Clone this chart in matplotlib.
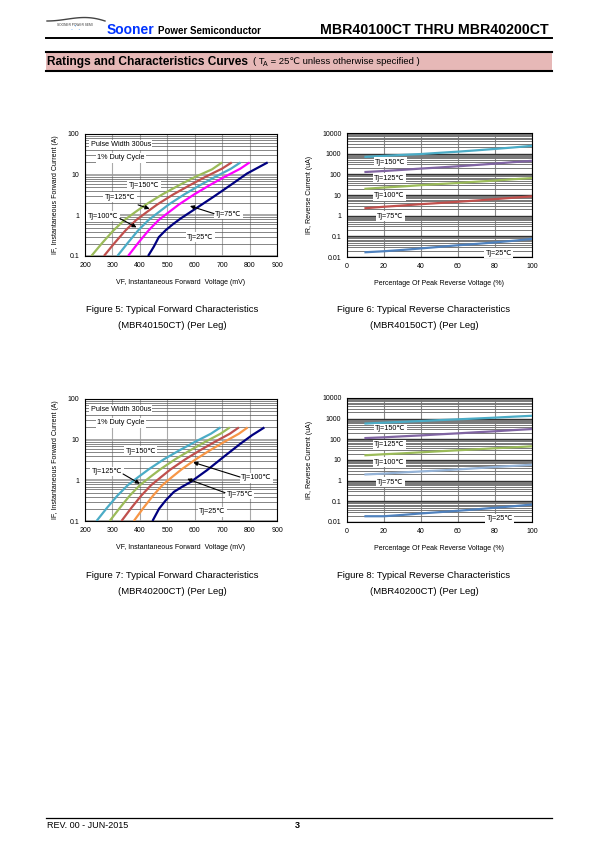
import matplotlib
matplotlib.use("Agg")
import matplotlib.pyplot as plt
from matplotlib.ticker import LogLocator, NullFormatter
import numpy as np

plt.rcParams['font.family'] = ['Liberation Sans', 'DejaVu Sans']

# ---- data: forward characteristics (VF mV, IF A) ----
temps_fwd = ["150", "125", "100", "75", "25"]

# Figure 5 (MBR40150CT)
f5_vf = [
    [223, 263, 303, 343, 383, 423, 483, 543, 603, 663, 700],
    [269, 308, 347, 386, 425, 464, 523, 582, 640, 699, 735],
    [318, 356, 393, 431, 469, 506, 563, 619, 676, 732, 767],
    [357, 394, 431, 468, 506, 543, 599, 654, 710, 766, 800],
    [430, 451, 469, 494, 520, 548, 609, 670, 730, 791, 866],
]
f5_if = [
    [0.1, 0.21, 0.42, 0.76, 1.2, 1.86, 3.3, 5.5, 8.9, 13.5, 20],
    [0.1, 0.21, 0.42, 0.76, 1.2, 1.86, 3.3, 5.5, 8.9, 14, 20],
    [0.1, 0.21, 0.42, 0.76, 1.2, 1.86, 3.3, 5.5, 8.9, 14, 20],
    [0.1, 0.21, 0.42, 0.76, 1.2, 1.86, 3.3, 5.5, 8.9, 14, 20],
    [0.1, 0.17, 0.29, 0.43, 0.6, 0.83, 1.55, 2.9, 5.5, 10.7, 20],
]
f5_colors = ["#9BBB59", "#C0504D", "#4BACC6", "#FF00FF", "#000080"]

# Figure 7 (MBR40200CT)
f7_vf = [
    [242, 280, 318, 356, 394, 432, 488, 545, 602, 659, 694],
    [290, 327, 363, 400, 437, 474, 529, 584, 639, 694, 728],
    [333, 369, 405, 441, 477, 512, 566, 620, 674, 728, 761],
    [378, 413, 448, 482, 517, 552, 604, 656, 709, 761, 793],
    [446, 470, 494, 524, 555, 585, 645, 706, 767, 810, 854],
]
f7_if = [
    [0.1, 0.21, 0.42, 0.76, 1.2, 1.86, 3.3, 5.5, 8.9, 14, 20],
    [0.1, 0.21, 0.42, 0.76, 1.2, 1.86, 3.3, 5.5, 8.9, 14, 20],
    [0.1, 0.21, 0.42, 0.76, 1.2, 1.86, 3.3, 5.5, 8.9, 14, 20],
    [0.1, 0.21, 0.42, 0.76, 1.2, 1.86, 3.3, 5.5, 8.9, 14, 20],
    [0.1, 0.2, 0.32, 0.52, 0.7, 0.91, 1.78, 3.8, 8.0, 13, 20],
]
f7_colors = ["#4BACC6", "#9BBB59", "#C0504D", "#F79646", "#000080"]

# ---- data: reverse characteristics (% of VRRM, IR uA) ----
rev_x = [10, 20, 30, 40, 50, 60, 70, 80, 90, 100]
temps_rev = ["150", "125", "100", "75", "25"]

f6_ir = [
    [700, 780, 870, 960, 1100, 1250, 1450, 1700, 2000, 2400],
    [130, 145, 165, 190, 215, 245, 285, 330, 390, 450],
    [20, 23, 26, 30, 34, 38, 44, 50, 58, 66],
    [2.3, 2.7, 3.1, 3.6, 4.1, 4.7, 5.4, 6.3, 7.4, 8.6],
    [0.017, 0.019, 0.022, 0.026, 0.031, 0.037, 0.043, 0.051, 0.061, 0.075],
]
f6_colors = ["#4BACC6", "#8064A2", "#9BBB59", "#C0504D", "#4F81BD"]

f8_ir = [
    [580, 640, 700, 770, 850, 930, 1020, 1120, 1250, 1380],
    [115, 125, 140, 155, 175, 195, 220, 245, 280, 315],
    [17, 19, 21, 23.5, 26.5, 29.5, 33, 37, 41, 46],
    [2.0, 2.2, 2.5, 2.8, 3.1, 3.5, 4.0, 4.6, 5.2, 5.9],
    [0.019, 0.019, 0.022, 0.026, 0.030, 0.035, 0.041, 0.049, 0.058, 0.070],
]
f8_colors = ["#4BACC6", "#8064A2", "#9BBB59", "#95B3D7", "#4F81BD"]

fwd_xticks = [200, 300, 400, 500, 600, 700, 800, 900]
fwd_yticks = [0.1, 1, 10, 100]
fwd_yticklabels = ["0.1", "1", "10", "100"]
rev_xticks = [0, 20, 40, 60, 80, 100]
rev_yticks = [0.01, 0.1, 1, 10, 100, 1000, 10000]
rev_yticklabels = ["0.01", "0.1", "1", "10", "100", "1000", "10000"]

W, H = 595, 842
fig = plt.figure(figsize=(W / 100, H / 100), dpi=100)


def px(x, y):
    return x / W, 1 - y / H


def add_ax(l, t, r, b):
    return fig.add_axes([l / W, 1 - b / H, (r - l) / W, (b - t) / H])


def style_axes(ax):
    for s in ax.spines.values():
        s.set_linewidth(0.8)
        s.set_color("black")
    ax.tick_params(which="both", length=0, labelsize=5, pad=4)
    ax.set_axisbelow(True)


def lbl(ax, x, y, s, box=True, size=5.2):
    kw = dict(fontsize=size, ha="center", va="center", zorder=5)
    if box:
        kw["bbox"] = dict(facecolor="white", edgecolor="none", pad=1.0)
    ax.text(x, y, s, **kw)


def arrow(ax, x0, y0, x1, y1):
    ax.annotate("", xy=(x1, y1), xytext=(x0, y0),
                arrowprops=dict(arrowstyle="-|>", color="black", lw=0.8,
                                mutation_scale=6), zorder=6)


def forward_chart(ax, vf, iff, colors):
    style_axes(ax)
    ax.set_yscale("log")
    ax.set_xlim(200, 900)
    ax.set_ylim(0.1, 100)
    ax.set_xticks(fwd_xticks)
    ax.set_yticks(fwd_yticks)
    ax.set_yticklabels(fwd_yticklabels)
    ax.yaxis.set_minor_locator(LogLocator(base=10, subs=np.arange(2, 10)))
    ax.yaxis.set_minor_formatter(NullFormatter())
    ax.grid(True, which="minor", axis="y", color="#555555", lw=0.5)
    ax.grid(True, which="major", axis="y", color="#999999", lw=1.2)
    ax.grid(True, which="major", axis="x", color="#aaaaaa", lw=0.8)
    for x, y, c in zip(vf, iff, colors):
        ax.plot(x, y, color=c, lw=1.6, solid_capstyle="butt", zorder=3)
    lbl(ax, 330, 54, "Pulse Width 300us")
    lbl(ax, 330, 26, "1% Duty Cycle")
    ax.set_ylabel("IF, Instantaneous Forward Current (A)", fontsize=5)
    ax.yaxis.set_label_coords(-0.135, 0.5)
    ax.set_xlabel("VF, Instantaneous Forward  Voltage (mV)", fontsize=5)
    ax.xaxis.set_label_coords(0.5, -0.19)


def reverse_chart(ax, ir, colors):
    style_axes(ax)
    ax.set_yscale("log")
    ax.set_xlim(0, 100)
    ax.set_ylim(0.01, 10000)
    ax.set_xticks(rev_xticks)
    ax.set_yticks(rev_yticks)
    ax.set_yticklabels(rev_yticklabels)
    ax.yaxis.set_minor_locator(LogLocator(base=10, subs=np.arange(2, 10)))
    ax.yaxis.set_minor_formatter(NullFormatter())
    ax.grid(True, which="minor", axis="y", color="#777777", lw=0.7)
    ax.grid(True, which="major", axis="y", color="#333333", lw=1.0)
    ax.grid(True, which="major", axis="x", color="#888888", lw=0.8)
    for y, c in zip(ir, colors):
        ax.plot(rev_x, y, color=c, lw=1.6, zorder=3)
    ax.set_ylabel("IR, Reverse Current (uA)", fontsize=5)
    ax.yaxis.set_label_coords(-0.185, 0.5)
    ax.set_xlabel("Percentage Of Peak Reverse Voltage (%)", fontsize=5)
    ax.xaxis.set_label_coords(0.5, -0.185)


# Figure 5
ax5 = add_ax(85, 134, 277, 256)
forward_chart(ax5, f5_vf, f5_if, f5_colors)
lbl(ax5, 415, 5.5, "Tj=150\u2103")
lbl(ax5, 328, 2.8, "Tj=125\u2103")
lbl(ax5, 266, 0.95, "Tj=100\u2103")
lbl(ax5, 722, 1.05, "Tj=75\u2103")
lbl(ax5, 621, 0.29, "Tj=25\u2103")
arrow(ax5, 384, 1.9, 445, 1.38)
arrow(ax5, 318, 0.9, 397, 0.47)
arrow(ax5, 680, 1.05, 573, 1.78)

# Figure 7
ax7 = add_ax(85, 399, 277, 521)
forward_chart(ax7, f7_vf, f7_if, f7_colors)
lbl(ax7, 403, 5.2, "Tj=150\u2103")
lbl(ax7, 280, 1.66, "Tj=125\u2103")
lbl(ax7, 825, 1.15, "Tj=100\u2103")
lbl(ax7, 764, 0.45, "Tj=75\u2103")
lbl(ax7, 664, 0.17, "Tj=25\u2103")
arrow(ax7, 330, 1.55, 409, 0.76)
arrow(ax7, 775, 1.15, 585, 2.9)
arrow(ax7, 720, 0.47, 563, 1.15)

# Figure 6
ax6 = add_ax(347, 133, 532, 257)
reverse_chart(ax6, f6_ir, f6_colors)
lbl(ax6, 23.5, 380, "Tj=150\u2103")
lbl(ax6, 23, 66, "Tj=125\u2103")
lbl(ax6, 23, 9, "Tj=100\u2103")
lbl(ax6, 23.5, 0.93, "Tj=75\u2103")
lbl(ax6, 82, 0.0155, "Tj=25\u2103")

# Figure 8
ax8 = add_ax(347, 398, 532, 522)
reverse_chart(ax8, f8_ir, f8_colors)
lbl(ax8, 23.5, 330, "Tj=150\u2103")
lbl(ax8, 23, 55, "Tj=125\u2103")
lbl(ax8, 23, 8, "Tj=100\u2103")
lbl(ax8, 23.5, 0.83, "Tj=75\u2103")
lbl(ax8, 82.5, 0.0145, "Tj=25\u2103")

# captions
caps = [
    (172, 310, "Figure 5: Typical Forward Characteristics"),
    (172, 326, "(MBR40150CT) (Per Leg)"),
    (424, 310, "Figure 6: Typical Reverse Characteristics"),
    (424, 326, "(MBR40150CT) (Per Leg)"),
    (172, 576, "Figure 7: Typical Forward Characteristics"),
    (172, 592, "(MBR40200CT) (Per Leg)"),
    (424, 576, "Figure 8: Typical Reverse Characteristics"),
    (424, 592, "(MBR40200CT) (Per Leg)"),
]
for x, y, s in caps:
    fig.text(*px(x, y), s, fontsize=6.8, ha="center", va="center")

# header
t_soon = fig.text(*px(107, 34), "Sooner", fontsize=10, fontweight="bold", color="#0033FF",
                  ha="left", va="baseline")
fig.text(*px(158, 34), "Power Semiconductor", fontsize=7, fontweight="bold",
         ha="left", va="baseline")
fig.text(*px(549, 34.5), "MBR40100CT THRU MBR40200CT", fontsize=10.2, fontweight="bold",
         ha="right", va="baseline")
fig.add_artist(plt.Line2D([46 / W, 552 / W], [1 - 37.5 / H] * 2, color="black", lw=1.4))
# logo swoosh
lx = np.linspace(47, 105, 30)
ly = 21 - 6 * np.sin((lx - 47) / 58 * np.pi) * ((lx - 47) / 58)
fig.add_artist(plt.Line2D(lx / W, 1 - ly / H, color="#444444", lw=1.0))
fig.text(*px(75, 24.5), "SOONER POWER SEMI", fontsize=2.3, ha="center", va="center",
         color="#333333")
fig.text(*px(76, 29), ". ' .", fontsize=5, ha="center", va="center", color="#3399FF")

# section band
fig.add_artist(plt.Rectangle((46 / W, 1 - 70.5 / H), 506 / W, 19 / H,
                             facecolor="#E6B8B7", edgecolor="none"))
fig.add_artist(plt.Line2D([46 / W, 552 / W], [1 - 51.5 / H] * 2, color="black", lw=1.5))
fig.add_artist(plt.Line2D([46 / W, 552 / W], [1 - 70.5 / H] * 2, color="black", lw=1.5))
fig.text(*px(47, 64.5), "Ratings and Characteristics Curves", fontsize=8.6,
         fontweight="bold", ha="left", va="baseline")
t1 = fig.text(*px(253, 64.5), "( T", fontsize=6.8, ha="left", va="baseline")
t2 = fig.text(*px(263, 66.5), "A", fontsize=5, ha="left", va="baseline")
fig.text(*px(267.5, 64.5), " = 25\u2103 unless otherwise specified )", fontsize=6.8,
         ha="left", va="baseline")

# footer
fig.add_artist(plt.Line2D([46 / W, 552 / W], [1 - 817.5 / H] * 2, color="black", lw=0.9))
fig.text(*px(47, 825), "REV. 00 - JUN-2015", fontsize=6.5, ha="left", va="center")
fig.text(*px(297, 825), "3", fontsize=6.5, fontweight="bold", ha="center", va="center")

fig.savefig("out.png", dpi=100)
